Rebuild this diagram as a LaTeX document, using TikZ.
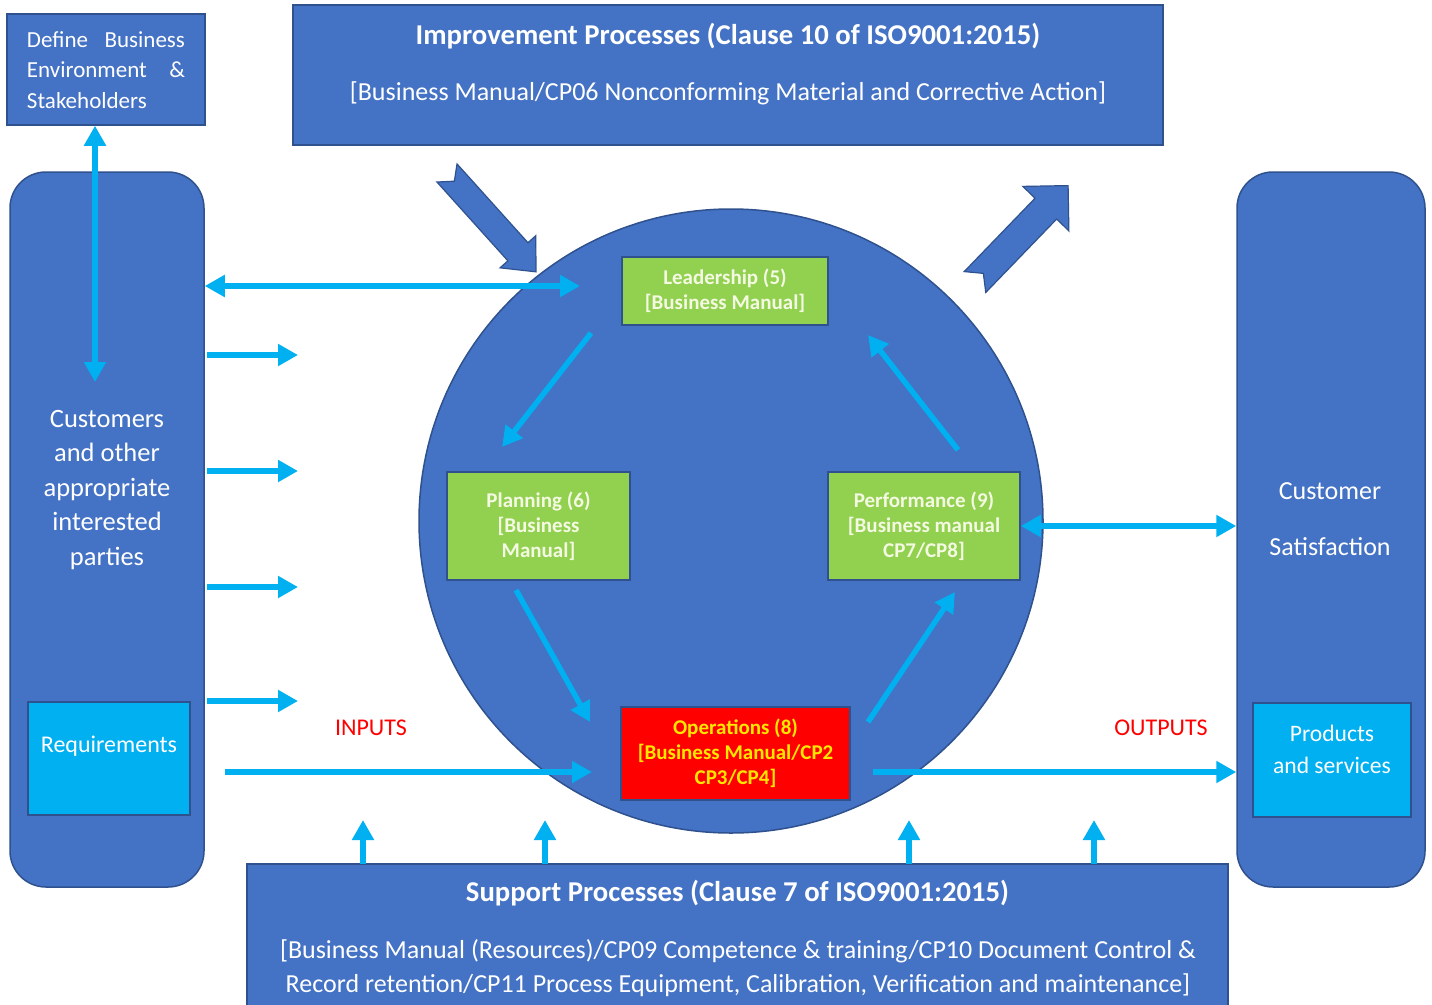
\documentclass[tikz,border=0pt]{standalone}
\usepackage{fontspec}
\setmainfont{Carlito}
\usetikzlibrary{arrows.meta}
\definecolor{obl}{HTML}{4472C4}
\definecolor{obd}{HTML}{2F528F}
\definecolor{lbl}{HTML}{00B0F0}
\definecolor{grn}{HTML}{92D050}
\definecolor{gtx}{HTML}{F4F9E2}
\definecolor{ytx}{HTML}{FFE800}
\definecolor{rtx}{HTML}{FF0000}
\tikzset{
  bluebox/.style={draw=obd, line width=1.5pt, fill=obl, inner sep=0pt},
  tallbox/.style={bluebox, rounded corners=36pt},
  cyanbox/.style={draw=obd, line width=1.5pt, fill=lbl, inner sep=0pt},
  greenbox/.style={draw=obd, line width=1.5pt, fill=grn, inner sep=0pt, text=gtx, font=\bfseries\fontsize{21}{25}\selectfont, align=center},
  redbox/.style={draw=obd, line width=1.5pt, fill=red, inner sep=0pt, text=ytx, font=\bfseries\fontsize{21}{25}\selectfont, align=center},
  wtext/.style={text=white, inner sep=0pt, align=center},
  conn/.style={draw=lbl, line width=5.5pt, -{Triangle[length=20pt,width=21pt]}},
  dconn/.style={draw=lbl, line width=5.5pt, {Triangle[length=20pt,width=21pt]}-{Triangle[length=20pt,width=21pt]}},
  blk/.style={draw=obd, line width=1.2pt, fill=obl, line join=miter},
}
\newcommand\blkarrow[7]{%
  \begin{scope}[shift={(#1)}, rotate=#2]
    \draw[blk] (0,#4) -- (#7,0) -- (0,-#4) -- (#3-#5,-#4) -- (#3-#5,-#6) -- (#3,0)
      -- (#3-#5,#6) -- (#3-#5,#4) -- cycle;
  \end{scope}}
\begin{document}
\begin{tikzpicture}[x=1pt,y=-1pt]
\useasboundingbox (0,0) rectangle (1432,1004);
\clip (0,0) rectangle (1432,1004);
\fill[white] (0,0) rectangle (1432,1004);

% main circle
\node[bluebox, circle, minimum size=624pt] (circ) at (731,521) {};

% top boxes
\node[bluebox, minimum width=198pt, minimum height=111pt] (define) at (106,69.5) {};
\node[wtext, text width=158pt, font=\fontsize{23}{30.5}\selectfont, align=left] (definetxt) at (106,70)
  {\makebox[158pt][s]{Define\hfill Business}\\\makebox[158pt][s]{Environment\hfill\&}\\Stakeholders};

\node[bluebox, minimum width=870pt, minimum height=140pt] (improve) at (728,75) {};
\node[wtext, font=\bfseries\fontsize{28.7}{32}\selectfont] (imptitle) at (728,36) {Improvement Processes (Clause 10 of ISO9001:2015)};
\node[wtext, font=\fontsize{26}{30}\selectfont] (impsub) at (728,93) {[Business Manual/CP06 Nonconforming Material and Corrective Action]};

% side boxes
\node[tallbox, minimum width=194pt, minimum height=715pt] (left) at (107,529.5) {};
\node[wtext, font=\fontsize{26.5}{34.5}\selectfont] (lefttxt) at (107,490)
  {Customers\\and other\\appropriate\\interested\\parties};
\node[cyanbox, minimum width=162pt, minimum height=113pt] (req) at (109,758.5) {};
\node[wtext, font=\fontsize{24}{30}\selectfont] (reqtxt) at (109,746) {Requirements};

\node[tallbox, minimum width=188pt, minimum height=715pt] (right) at (1331,529.5) {};
\node[wtext, font=\fontsize{26}{56}\selectfont] (righttxt) at (1330,519) {Customer\\Satisfaction};
\node[cyanbox, minimum width=158pt, minimum height=114pt] (prod) at (1332,760) {};
\node[wtext, font=\fontsize{23.6}{32}\selectfont] (prodtxt) at (1332,749) {Products\\and services};

% bottom box
\node[bluebox, minimum width=981pt, minimum height=160pt] (support) at (737.5,944) {};
\node[wtext, font=\bfseries\fontsize{28.7}{32}\selectfont] (suptitle) at (737.5,893) {Support Processes (Clause 7 of ISO9001:2015)};
\node[wtext, font=\fontsize{26}{34}\selectfont] (supbody) at (738,968)
  {[Business Manual (Resources)/CP09 Competence \& training/CP10 Document Control \&\\
   Record retention/CP11 Process Equipment, Calibration, Verification and maintenance]};

% process boxes
\node[greenbox, minimum width=206pt, minimum height=68pt] (lead) at (725,291) {Leadership (5)\\{}[Business Manual]};
\node[greenbox, minimum width=183pt, minimum height=108pt] (plan) at (538.5,526) {Planning (6)\\{}[Business\\Manual]};
\node[greenbox, minimum width=192pt, minimum height=108pt] (perf) at (924,526) {Performance (9)\\{}[Business manual\\CP7/CP8]};
\node[redbox, minimum width=229pt, minimum height=93pt] (oper) at (735.5,753.5) {Operations (8)\\{}[Business Manual/CP2\\CP3/CP4]};

% labels
\node[text=rtx, inner sep=0pt, font=\fontsize{24}{28}\selectfont] (inputs) at (371,728) {INPUTS};
\node[text=rtx, inner sep=0pt, font=\fontsize{24}{28}\selectfont] (outputs) at (1161,728) {OUTPUTS};

% block arrows
\blkarrow{447,173}{-48}{133}{13.5}{27}{24}{11}
\blkarrow{975,282}{46}{134}{15}{32}{32}{12}

% coordinates for free ends
\coordinate (vbot) at (95,382);
\coordinate (hl1) at (580,286);
\foreach \yy/\nm in {355/a,471/b,587/c,701/d}{
  \coordinate (s\nm) at (207,\yy);
  \coordinate (e\nm) at (298,\yy);
}
\coordinate (inS) at (225,772);
\coordinate (inE) at (592,772);
\coordinate (outS) at (873,772);
\coordinate (c1s) at (591,333); \coordinate (c1e) at (502,447);
\coordinate (c2s) at (516,590); \coordinate (c2e) at (590,722);
\coordinate (c3s) at (868,722); \coordinate (c3e) at (955,592);
\coordinate (c4s) at (958,450); \coordinate (c4e) at (868,335);

% connectors
\draw[dconn] (define.south -| vbot) -- (vbot);
\draw[dconn] (left.east |- hl1) -- (hl1);
\foreach \nm in {a,b,c,d}{ \draw[conn] (s\nm) -- (e\nm); }
\draw[conn] (inS) -- (inE);
\draw[conn] (outS) -- (outS -| right.west);
\draw[dconn] (perf.east) -- (perf.east -| right.west);
\foreach \xx in {363,545,909,1094}{
  \draw[conn] (\xx,864) -- (\xx,820);
}
\draw[conn] (c1s) -- (c1e);
\draw[conn] (c2s) -- (c2e);
\draw[conn] (c3s) -- (c3e);
\draw[conn] (c4s) -- (c4e);
\end{tikzpicture}
\end{document}
